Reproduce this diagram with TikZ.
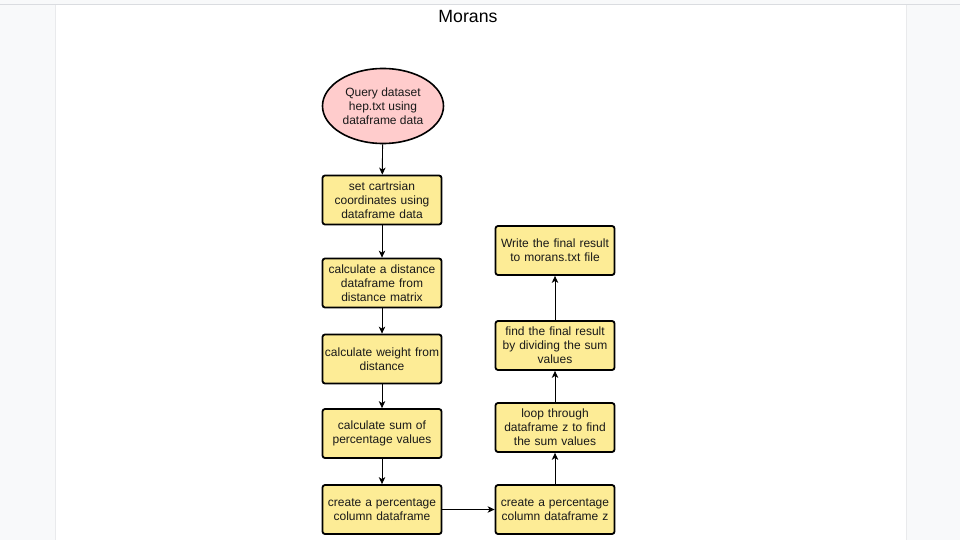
\documentclass[tikz,border=0pt]{standalone}
\usepackage{fontspec}
\setmainfont{Liberation Sans}
\usetikzlibrary{shapes.geometric,arrows.meta}
\definecolor{boxfill}{RGB}{253,236,150}
\definecolor{ellfill}{RGB}{255,204,204}
\definecolor{pagebg}{RGB}{248,249,250}
\definecolor{topline}{RGB}{218,220,224}
\definecolor{txt}{RGB}{25,25,25}
\tikzset{
  stepbox/.style={draw=black, line width=1.8pt, rounded corners=2.5pt, fill=boxfill,
    minimum width=119pt, minimum height=49pt, text width=117pt, align=center,
    inner sep=1pt, font=\fontsize{12pt}{14pt}\selectfont, text=txt},
  startell/.style={ellipse, draw=black, line width=1.6pt, fill=ellfill,
    minimum width=121pt, minimum height=75pt, inner sep=0pt, align=center,
    font=\fontsize{12pt}{14pt}\selectfont, text=txt},
  conn/.style={draw=black, line width=0.9pt, -{Stealth[length=7pt,width=6.5pt,inset=2pt]}}
}
\begin{document}
\begin{tikzpicture}[x=1pt,y=-1pt]
\useasboundingbox (0,0) rectangle (960,540);
\fill[pagebg] (0,0) rectangle (960,540);
\fill[white] (55,5) rectangle (906,540);
\draw[topline, line width=0.8pt] (0,4.5) -- (960,4.5);
\draw[topline!60, line width=0.5pt] (55,5) -- (55,540) (906,5) -- (906,540);
\node[font=\fontsize{17.7pt}{20pt}\selectfont] (title) at (468,16.5) {Morans};
\node[startell] (q) at (383,106) {Query dataset\\hep.txt using\\dataframe data};
\node[stepbox] (b1) at (382,200) {set cartrsian\\coordinates using\\dataframe data};
\node[stepbox] (b2) at (382,283) {calculate a distance\\dataframe from\\distance matrix};
\node[stepbox] (b3) at (382,359) {calculate weight from\\distance};
\node[stepbox] (b4) at (382,433.5) {calculate sum of\\percentage values};
\node[stepbox] (b5) at (382,509.5) {create a percentage\\column dataframe};
\node[stepbox] (b6) at (555,509.5) {create a percentage\\column dataframe z};
\node[stepbox] (b7) at (555,427.5) {loop through\\dataframe z to find\\the sum values};
\node[stepbox] (b8) at (555,345.5) {find the final result\\by dividing the sum\\values};
\node[stepbox] (b9) at (555,250.5) {Write the final result\\to morans.txt file};
\draw[conn] (q) -- (b1);
\draw[conn] (b1) -- (b2);
\draw[conn] (b2) -- (b3);
\draw[conn] (b3) -- (b4);
\draw[conn] (b4) -- (b5);
\draw[conn] (b5) -- (b6);
\draw[conn] (b6) -- (b7);
\draw[conn] (b7) -- (b8);
\draw[conn] (b8) -- (b9);
\end{tikzpicture}
\end{document}
